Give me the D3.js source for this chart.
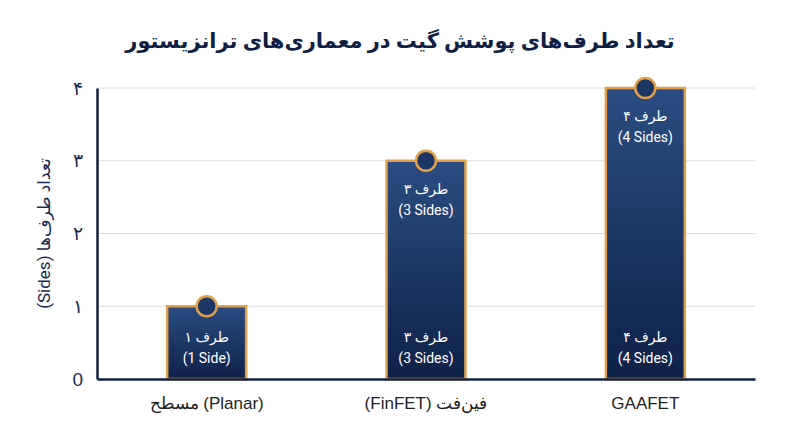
<!DOCTYPE html>
<html>
<head>
<meta charset="utf-8">
<script src="https://cdn.jsdelivr.net/npm/d3@7"></script>
<style>
  body { margin: 0; background: #fff; }
  svg { display: block; font-family: Roboto, "DejaVu Sans", sans-serif; }
</style>
</head>
<body>
<script>
// chart data (LRM keeps the visual order of mixed labels)
const categories = ['\u200Eمسطح (Planar)', '\u200E(FinFET) فین‌فت', 'GAAFET'];
const sides = [1, 3, 4];
const topLabels = ['۱ طرف', '۳ طرف', '۴ طرف'];
const subLabels = ['(1 Side)', '(3 Sides)', '(4 Sides)'];
const yTicks = [0, 1, 2, 3, 4];
const yTickLabels = ['0', '۱', '۲', '۳', '۴'];

const W = 800, H = 447;
const margin = { top: 88, right: 45, bottom: 68, left: 97 };
const width = W - margin.left - margin.right;
const height = H - margin.top - margin.bottom;

const svg = d3.select('body').append('svg')
  .attr('width', W)
  .attr('height', H);

// gradient for bars
const defs = svg.append('defs');
const grad = defs.append('linearGradient')
  .attr('id', 'barGrad')
  .attr('x1', 0).attr('y1', 0).attr('x2', 0).attr('y2', 1);
grad.append('stop').attr('offset', '0%').attr('stop-color', '#2b4c82');
grad.append('stop').attr('offset', '100%').attr('stop-color', '#0e2148');

// title
svg.append('text')
  .attr('x', W / 2)
  .attr('y', 48)
  .attr('text-anchor', 'middle')
  .attr('direction', 'rtl')
  .attr('font-size', 21)
  .attr('font-weight', 'bold')
  .attr('fill', '#0f1f45')
  .text('تعداد طرف‌های پوشش گیت در معماری‌های ترانزیستور');

const g = svg.append('g')
  .attr('transform', `translate(${margin.left}, ${margin.top})`);

const x = d3.scaleBand()
  .domain(categories)
  .range([0, width])
  .paddingInner(0.64)
  .paddingOuter(0.32);

const y = d3.scaleLinear()
  .domain([0, 4])
  .range([height, 0]);

// gridlines
g.append('g')
  .selectAll('line')
  .data(yTicks.slice(1))
  .join('line')
  .attr('x1', 0).attr('x2', width)
  .attr('y1', d => y(d)).attr('y2', d => y(d))
  .attr('stroke', '#dcdcdc')
  .attr('stroke-width', 1);

// y axis
const yAxis = d3.axisLeft(y)
  .tickValues(yTicks)
  .tickSize(0)
  .tickPadding(14)
  .tickFormat((d, i) => yTickLabels[i]);

const yG = g.append('g').call(yAxis);
yG.select('.domain').attr('stroke', '#0f1f45').attr('stroke-width', 2.5);
yG.selectAll('text')
  .attr('font-size', 19)
  .attr('fill', '#1a2a50');

// y axis title
svg.append('text')
  .attr('transform', `translate(50, ${margin.top + height / 2}) rotate(-90)`)
  .attr('text-anchor', 'middle')
  .attr('font-size', 17)
  .attr('fill', '#1a2a50')
  .text('(Sides) تعداد طرف‌ها');

// bars, one group per category
const rows = sides.map((v, i) => ({ cat: categories[i], v, top: topLabels[i], sub: subLabels[i] }));

const bars = g.selectAll('.bar')
  .data(rows)
  .join('g')
  .attr('class', 'bar');

bars.append('rect')
  .attr('x', d => x(d.cat))
  .attr('y', d => y(d.v))
  .attr('width', x.bandwidth())
  .attr('height', d => height - y(d.v))
  .attr('fill', 'url(#barGrad)')
  .attr('stroke', '#e3a04b')
  .attr('stroke-width', 2.5);

bars.append('circle')
  .attr('cx', d => x(d.cat) + x.bandwidth() / 2)
  .attr('cy', d => y(d.v))
  .attr('r', 10)
  .attr('fill', '#1c3766')
  .attr('stroke', '#e3a04b')
  .attr('stroke-width', 2.5);

function labelPair(sel, yPos) {
  sel.append('text')
    .attr('x', d => x(d.cat) + x.bandwidth() / 2)
    .attr('y', yPos)
    .attr('text-anchor', 'middle')
    .attr('font-size', 14)
    .attr('fill', '#fff')
    .text(d => d.top);
  sel.append('text')
    .attr('x', d => x(d.cat) + x.bandwidth() / 2)
    .attr('y', d => yPos(d) + 21)
    .attr('text-anchor', 'middle')
    .attr('font-size', 14)
    .attr('fill', '#fff')
    .text(d => d.sub);
}

// top labels only on bars tall enough
labelPair(bars.filter(d => d.v > 1), d => y(d.v) + 33);
// bottom labels on every bar
labelPair(bars, () => y(0.5) - 1);

// x axis
const xAxis = d3.axisBottom(x).tickSize(0).tickPadding(18);
const xG = g.append('g')
  .attr('transform', `translate(0, ${height})`)
  .call(xAxis);
xG.select('.domain').attr('stroke', '#0f1f45').attr('stroke-width', 2.5);
xG.selectAll('text')
  .attr('font-size', 17)
  .attr('fill', '#222');
</script>
</body>
</html>
